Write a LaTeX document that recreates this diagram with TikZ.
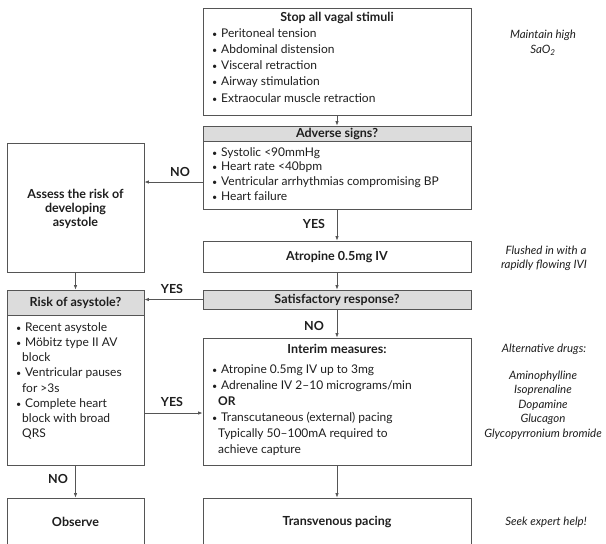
\documentclass[tikz,border=0pt]{standalone}
\usepackage{fontspec}
\setmainfont{Lato}
\usetikzlibrary{arrows.meta,positioning}

\definecolor{linegray}{HTML}{555555}
\definecolor{headgray}{HTML}{DCDCDC}
\definecolor{inkgray}{HTML}{1E1E1E}

% bullet item and continuation line
\newcommand{\itm}[1]{\makebox[9pt][l]{\scalebox{0.75}{\textbullet}}#1}
\newcommand{\cnt}[1]{\hspace*{6pt}#1}

\begin{document}
\begin{tikzpicture}[x=1pt,y=-1pt,
    box/.style={draw=linegray,line width=0.8pt,inner sep=0pt},
    headbox/.style={box,fill=headgray,text=inkgray,font=\bfseries\fontsize{12.5}{14}\selectfont},
    title/.style={inner sep=0pt,text=inkgray,font=\bfseries\fontsize{12.5}{14}\selectfont,align=center},
    item/.style={anchor=west,inner sep=0pt,text=inkgray,text height=9pt,text depth=2.5pt,
        font=\fontsize{12}{14}\selectfont},
    note/.style={inner sep=0pt,text=inkgray,font=\itshape\fontsize{11.5}{13}\selectfont},
    answer/.style={inner sep=0pt,text=inkgray,font=\bfseries\fontsize{12.5}{14}\selectfont},
    arr/.style={draw=linegray,line width=0.8pt,-{Latex[length=4.5pt,width=3.5pt]}}]
    \useasboundingbox (0,0) rectangle (606,544);

    % Middle column boxes
    \node[box,minimum width=268pt,minimum height=107pt] (stop) at (337,61.5) {};
    \node[box,minimum width=268pt,minimum height=83pt] (adverse) at (337,167.5) {};
    \node[headbox,minimum width=268pt,minimum height=15pt,anchor=north] (adversehead) at (adverse.north) {Adverse signs?};
    \node[box,minimum width=268pt,minimum height=31pt] (atropine) at (337,256.5) {};
    \node[headbox,minimum width=268pt,minimum height=19pt] (satis) at (337,299.5) {Satisfactory response?};
    \node[box,minimum width=268pt,minimum height=127pt] (interim) at (337,401.5) {};
    \node[box,minimum width=268pt,minimum height=72pt] (transv) at (337,534) {};

    % Left column boxes
    \node[box,minimum width=137pt,minimum height=129pt] (assess) at (75.5,207.5) {};
    \node[box,minimum width=137pt,minimum height=175pt] (risk) at (75.5,377.5) {};
    \node[headbox,minimum width=137pt,minimum height=25pt,anchor=north] (riskhead) at (risk.north) {Risk of asystole?};
    \node[box,minimum width=137pt,minimum height=72pt] (observe) at (75.5,534) {};

    % Titles
    \node[title] (stoptitle) at (337,18) {Stop all vagal stimuli};
    \node[title] (atropinetitle) at (atropine) {Atropine 0.5mg IV};
    \node[title] (interimtitle) at (337,349) {Interim measures:};
    \node[title] (transvtitle) at (337,522) {Transvenous pacing};
    \node[title] (assesstitle) at (75.5,209) {Assess the risk of\\developing\\asystole};
    \node[title] (observetitle) at (75.5,522) {Observe};

    % Lists
    \foreach \y/\t [count=\i] in {34/\itm{Peritoneal tension}, 50.2/\itm{Abdominal distension},
        66.4/\itm{Visceral retraction}, 82.6/\itm{Airway stimulation},
        98.8/\itm{Extraocular muscle retraction}}
        \node[item] (stop-\i) at (212,\y) {\t};
    \foreach \y/\t [count=\i] in {153/\itm{Systolic <90mmHg}, 167.5/\itm{Heart rate <40bpm},
        182.5/\itm{Ventricular arrhythmias compromising BP}, 197/\itm{Heart failure}}
        \node[item] (adverse-\i) at (212,\y) {\t};
    \foreach \y/\t [count=\i] in {370/\itm{Atropine 0.5mg IV up to 3mg},
        386/\itm{Adrenaline IV 2–10 micrograms/min}, 402/\cnt{\textbf{OR}},
        418/\itm{Transcutaneous (external) pacing}, 434/\cnt{Typically 50–100mA required to},
        450/\cnt{achieve capture}}
        \node[item] (interim-\i) at (212,\y) {\t};
    \foreach \y/\t [count=\i] in {328/\itm{Recent asystole}, 343.2/\itm{Möbitz type II AV},
        358.4/\cnt{block}, 373.6/\itm{Ventricular pauses}, 388.8/\cnt{for >3s},
        404/\itm{Complete heart}, 419.2/\cnt{block with broad}, 434.4/\cnt{QRS}}
        \node[item] (risk-\i) at (16,\y) {\t};

    % Connectors
    \draw[arr] (stop) -- (adverse);
    \draw[arr] (adverse.west |- 0,182) -- (assess.east |- 0,182);
    \draw[arr] (adverse) -- (atropine);
    \draw[arr] (atropine) -- (satis);
    \draw[arr] (satis.west) -- (satis.west -| risk.east);
    \draw[arr] (assess) -- (risk);
    \draw[arr] (satis) -- (interim);
    \draw[arr] (risk.east |- 0,413) -- (interim.west |- 0,413);
    \draw[arr] (risk) -- (observe);
    \draw[arr] (interim) -- (transv);

    % Answers
    \node[answer] (no-1) at (180,172) {NO};
    \node[answer] (yes-1) at (314,224) {YES};
    \node[answer] (yes-2) at (172,289) {YES};
    \node[answer] (no-2) at (314,326) {NO};
    \node[answer] (yes-3) at (172,402) {YES};
    \node[answer] (no-3) at (58,479) {NO};

    % Side notes
    \node[note] (sao-1) at (543,35) {Maintain high};
    \node[note] (sao-2) at (543,50.5) {SaO\textsubscript{2}};
    \node[note] (flush-1) at (546,250) {Flushed in with a};
    \node[note] (flush-2) at (544,265) {rapidly flowing IVI};
    \node[note] (drugs) at (544,349) {Alternative drugs:};
    \foreach \y/\t [count=\i] in {376/Aminophylline, 390.5/Isoprenaline, 405/Dopamine,
        419.5/Glucagon, 434/Glycopyrronium bromide}
        \node[note] (drug-\i) at (543,\y) {\t};
    \node[note] (help) at (546,522) {Seek expert help!};
\end{tikzpicture}
\end{document}
